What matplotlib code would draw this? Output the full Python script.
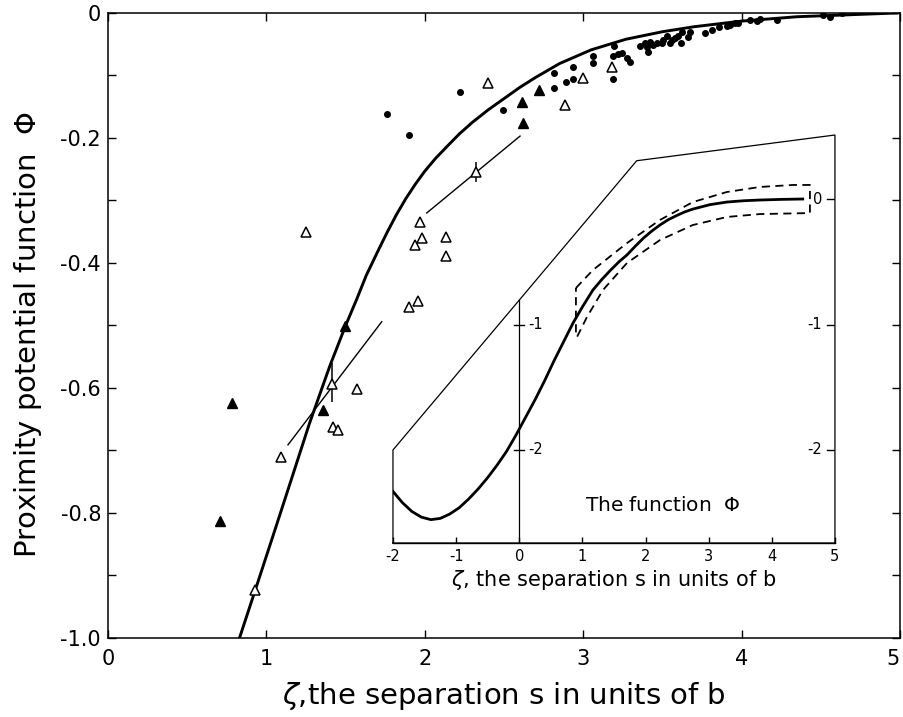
import numpy as np
import matplotlib
matplotlib.use("Agg")
import matplotlib.pyplot as plt

plt.rcParams['font.family'] = ['DejaVu Sans']

# main curve: proximity function
curve_x = [0.83, 0.93, 1.05, 1.15, 1.27, 1.40, 1.50, 1.57, 1.63, 1.70, 1.76, 1.82,
           1.88, 1.94, 2.00, 2.07, 2.15, 2.22, 2.30, 2.40, 2.50, 2.60, 2.70, 2.85,
           3.05, 3.27, 3.50, 3.70, 4.00, 4.35, 4.98]
curve_y = [-1.0, -0.923, -0.83, -0.752, -0.658, -0.565, -0.50, -0.458, -0.42, -0.383,
           -0.352, -0.323, -0.297, -0.274, -0.253, -0.232, -0.211, -0.193, -0.175,
           -0.155, -0.137, -0.119, -0.103, -0.081, -0.059, -0.042, -0.030, -0.022,
           -0.013, -0.006, 0.0]

# filled dots
dot_x = [1.760, 1.900, 2.222, 2.496, 2.816, 2.816, 2.891, 2.934, 2.938, 3.060, 3.064,
         3.186, 3.196, 3.190, 3.222, 3.243, 3.275, 3.295, 3.359, 3.390, 3.405, 3.411,
         3.422, 3.443, 3.464, 3.496, 3.506, 3.527, 3.548, 3.559, 3.580, 3.600, 3.615,
         3.622, 3.664, 3.674, 3.769, 3.811, 3.859, 3.906, 3.927, 3.958, 3.979, 4.053,
         4.095, 4.116, 4.222, 4.516, 4.558, 4.632]
dot_y = [-0.162, -0.195, -0.126, -0.155, -0.096, -0.120, -0.110, -0.086, -0.106, -0.080,
         -0.069, -0.105, -0.053, -0.069, -0.066, -0.064, -0.072, -0.078, -0.053, -0.048,
         -0.055, -0.062, -0.046, -0.051, -0.048, -0.048, -0.043, -0.037, -0.048, -0.043,
         -0.040, -0.037, -0.048, -0.030, -0.039, -0.030, -0.032, -0.028, -0.022, -0.021,
         -0.019, -0.016, -0.016, -0.011, -0.013, -0.010, -0.011, -0.004, -0.006, 0.0]

# filled triangles
ftri_x = [0.783, 0.707, 1.359, 1.496, 2.612, 2.723, 2.618]
ftri_y = [-0.624, -0.813, -0.635, -0.501, -0.142, -0.124, -0.176]

# open triangles
otri_x = [1.250, 1.970, 1.982, 1.938, 2.134, 2.134, 1.900, 1.957, 1.092, 0.928,
          1.422, 1.454, 1.570, 2.401, 2.885, 2.999, 3.180]
otri_y = [-0.350, -0.334, -0.360, -0.371, -0.358, -0.389, -0.470, -0.461, -0.710, -0.923,
          -0.662, -0.667, -0.602, -0.112, -0.147, -0.104, -0.086]

# open triangles with error bars
err_x = [1.416, 2.323]
err_y = [-0.593, -0.254]
err_lo = [0.029, 0.016]
err_hi = [0.033, 0.016]

# straight fits
fit1_x = [1.136, 1.728]
fit1_y = [-0.691, -0.494]
fit2_x = [2.012, 2.601]
fit2_y = [-0.320, -0.197]

# inset: full function
inset_x = [-2.0, -1.85, -1.7, -1.55, -1.4, -1.25, -1.1, -0.95, -0.8, -0.65, -0.5,
           -0.35, -0.2, -0.05, 0.1, 0.25, 0.4, 0.55, 0.7, 0.85, 1.0, 1.167, 1.31,
           1.45, 1.58, 1.706, 1.84, 1.97, 2.10, 2.229, 2.36, 2.50, 2.62, 2.751,
           3.02, 3.290, 3.55, 3.812, 4.15, 4.49]
inset_y = [-2.33, -2.42, -2.49, -2.535, -2.555, -2.545, -2.51, -2.46, -2.39, -2.31,
           -2.22, -2.12, -2.01, -1.88, -1.74, -1.60, -1.45, -1.29, -1.14, -0.99,
           -0.86, -0.725, -0.64, -0.565, -0.50, -0.446, -0.375, -0.31, -0.255,
           -0.207, -0.165, -0.13, -0.103, -0.080, -0.045, -0.024, -0.014, -0.008,
           -0.003, 0.0]

# dashed band round the function
band_x = [0.898, 1.167, 1.706, 2.229, 2.751, 3.290, 3.812, 4.335, 4.604,
          4.604, 3.812, 3.290, 2.751, 2.229, 1.706, 1.326, 1.073, 0.914, 0.898, 0.898]
band_y = [-0.709, -0.566, -0.351, -0.167, -0.024, 0.056, 0.096, 0.112, 0.112,
          -0.112, -0.120, -0.143, -0.207, -0.327, -0.510, -0.725, -0.940, -1.100, -1.08, -0.709]

# inset frame (perspective box)
frame_x = [-2, 5, 5, 1.86, -2, -2]
frame_y = [-2.741, -2.741, 0.51, 0.305, -2.0, -2.741]

fig = plt.figure(figsize=(9.04, 7.17), dpi=100)
ax = fig.add_axes([0.1195, 0.1102, 0.8761, 0.8717])

ax.plot(curve_x, curve_y, color='black', lw=2.1, zorder=3)
ax.plot(fit1_x, fit1_y, color='black', lw=1.0)
ax.plot(fit2_x, fit2_y, color='black', lw=1.0)
ax.plot(dot_x, dot_y, 'o', color='black', ms=4.0, zorder=4)
ax.plot(ftri_x, ftri_y, '^', color='black', ms=7, zorder=4)
ax.plot(otri_x, otri_y, '^', mfc='white', mec='black', mew=1.1, ms=6.5, zorder=4)
ax.errorbar(err_x, err_y, yerr=[err_lo, err_hi], fmt='^', mfc='white', mec='black',
            mew=1.1, ms=6.5, ecolor='black', elinewidth=1.1, capsize=0, zorder=4)

ax.set_xlim(0, 5)
ax.set_ylim(-1.0, 0)
ax.set_xticks([0, 1, 2, 3, 4, 5])
ax.set_xticklabels(['0', '1', '2', '3', '4', '5'], fontsize=15)
ax.get_xticklabels()[-1].set_ha('right')
ax.set_yticks([0, -0.2, -0.4, -0.6, -0.8, -1.0])
ax.set_yticklabels(['0', '-0.2', '-0.4', '-0.6', '-0.8', '-1.0'], fontsize=15)
ax.set_yticks(np.arange(-0.9, 0, 0.2), minor=True)
ax.tick_params(axis='both', which='both', direction='in', top=True, right=True,
               length=6, width=1.0)
ax.tick_params(axis='x', pad=8)
ax.tick_params(axis='y', pad=5)
for s in ax.spines.values():
    s.set_linewidth(1.1)

ax.set_xlabel(r'$\zeta$,the separation s in units of b', fontsize=21, labelpad=8)
fig.text(0.031, 0.533, 'Proximity potential function  $\\Phi$', rotation=90,
         fontsize=21, ha='center', va='center')

# inset
axi = fig.add_axes([0.4347, 0.2427, 0.4889, 0.569])
axi.patch.set_alpha(0)
axi.set_xlim(-2, 5)
axi.set_ylim(-2.741, 0.51)
for side in ['top', 'left', 'right']:
    axi.spines[side].set_visible(False)
axi.spines['bottom'].set_linewidth(1.0)
axi.plot(frame_x, frame_y, color='black', lw=0.9, clip_on=False)
axi.plot([0, 0], [-2.741, -0.806], color='black', lw=0.9)
axi.plot(inset_x, inset_y, color='black', lw=2.0)
axi.plot(band_x, band_y, color='black', lw=1.3, linestyle=(0, (4.5, 3)))

axi.set_xticks([-2, -1, 0, 1, 2, 3, 4, 5])
axi.set_xticklabels(['-2', '-1', '0', '1', '2', '3', '4', '5'], fontsize=10.5)
axi.tick_params(axis='x', direction='in', length=4, width=1.0, pad=4)
axi.set_yticks([])
axi.set_xlabel(r'$\zeta$, the separation s in units of b', fontsize=15, labelpad=3)

for yv in [-1, -2]:
    axi.plot([-0.08, 0.08], [yv, yv], color='black', lw=1.0)
    axi.text(0.14, yv, '-%d' % -yv, fontsize=10.5, ha='left', va='center')
for yv in [0, -1, -2]:
    axi.plot([4.87, 5], [yv, yv], color='black', lw=1.0)
    axi.text(4.8, yv, '%d' % yv if yv == 0 else '-%d' % -yv, fontsize=10.5,
             ha='right', va='center')
axi.text(2.28, -2.44, 'The function  $\\Phi$', fontsize=14.5, ha='center', va='center')

fig.savefig('out.png', dpi=100)
